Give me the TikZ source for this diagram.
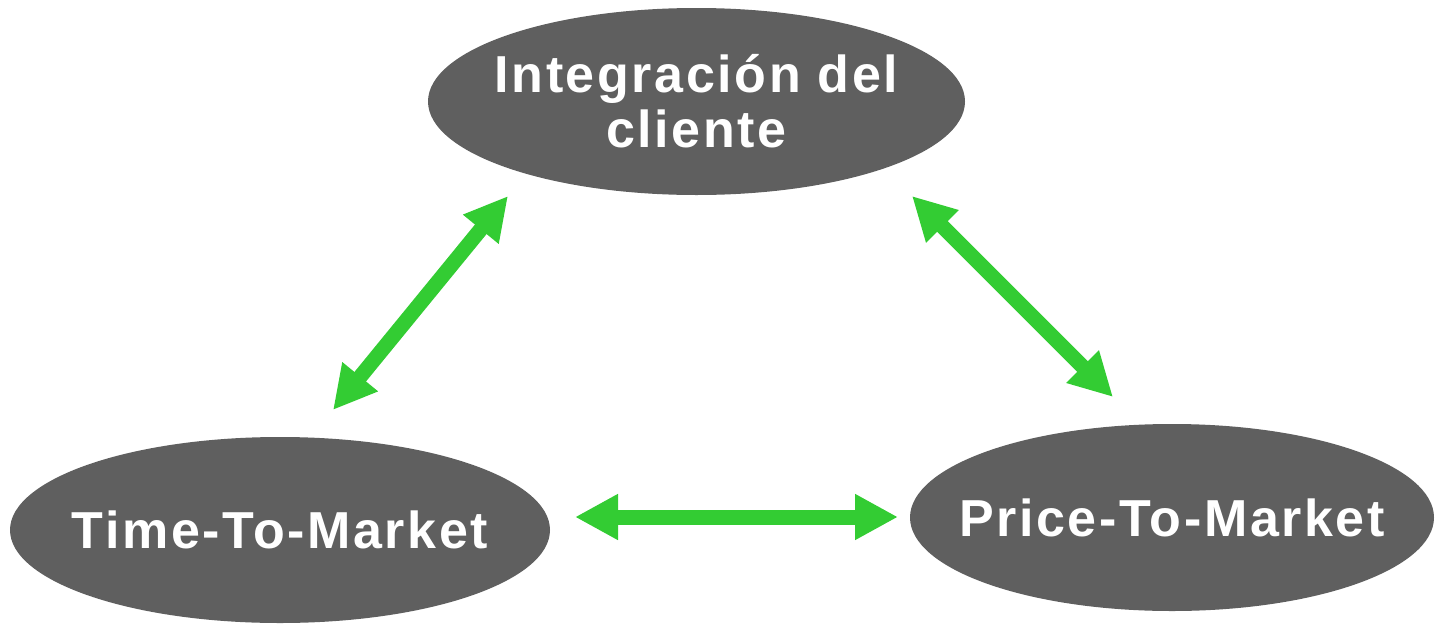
\documentclass[tikz,border=0pt]{standalone}
\usepackage{fontspec}
\usetikzlibrary{shapes.geometric,arrows.meta}
\newfontfamily\ovalfont{Liberation Sans}[LetterSpace=5]
\definecolor{ovalgray}{HTML}{5F5F5F}
\definecolor{linkgreen}{HTML}{33CC33}
\tikzset{
	oval/.style={ellipse, fill=ovalgray, inner sep=0pt, outer sep=0pt},
	ovaltext/.style={text=white, align=center, inner sep=0pt, font=\ovalfont\bfseries\fontsize{52}{55}\selectfont},
	link/.style={linkgreen, line width=15pt, {Triangle[length=43pt,width=43pt]}-{Triangle[length=43pt,width=43pt]}}
}
\begin{document}
\begin{tikzpicture}[x=1pt, y=-1pt]
			\useasboundingbox (0,0) rectangle (1441,624);
			\node[oval, minimum width=537pt, minimum height=187pt] (integ) at (696.5,101.5) {};
			\node[oval, minimum width=540pt, minimum height=186pt] (ttm) at (280,530) {};
			\node[oval, minimum width=524pt, minimum height=187pt] (ptm) at (1172,517.5) {};
			\node[ovaltext] (integtext) at (integ) {Integración del\\cliente};
			\node[ovaltext] (ttmtext) at (ttm) {Time-To-Market};
			\node[ovaltext] (ptmtext) at (ptm) {Price-To-Market};
			\draw[link] ([shift={(53,-27)}]ttm.north) -- ([shift={(-188.5,1)}]integ.south);
			\draw[link] ([shift={(215.5,1)}]integ.south) -- ([shift={(-59,-27)}]ptm.north);
			\draw[link] ([shift={(25,-13)}]ttm.east) -- ([shift={(-12,-0.5)}]ptm.west);
		\end{tikzpicture}
\end{document}
